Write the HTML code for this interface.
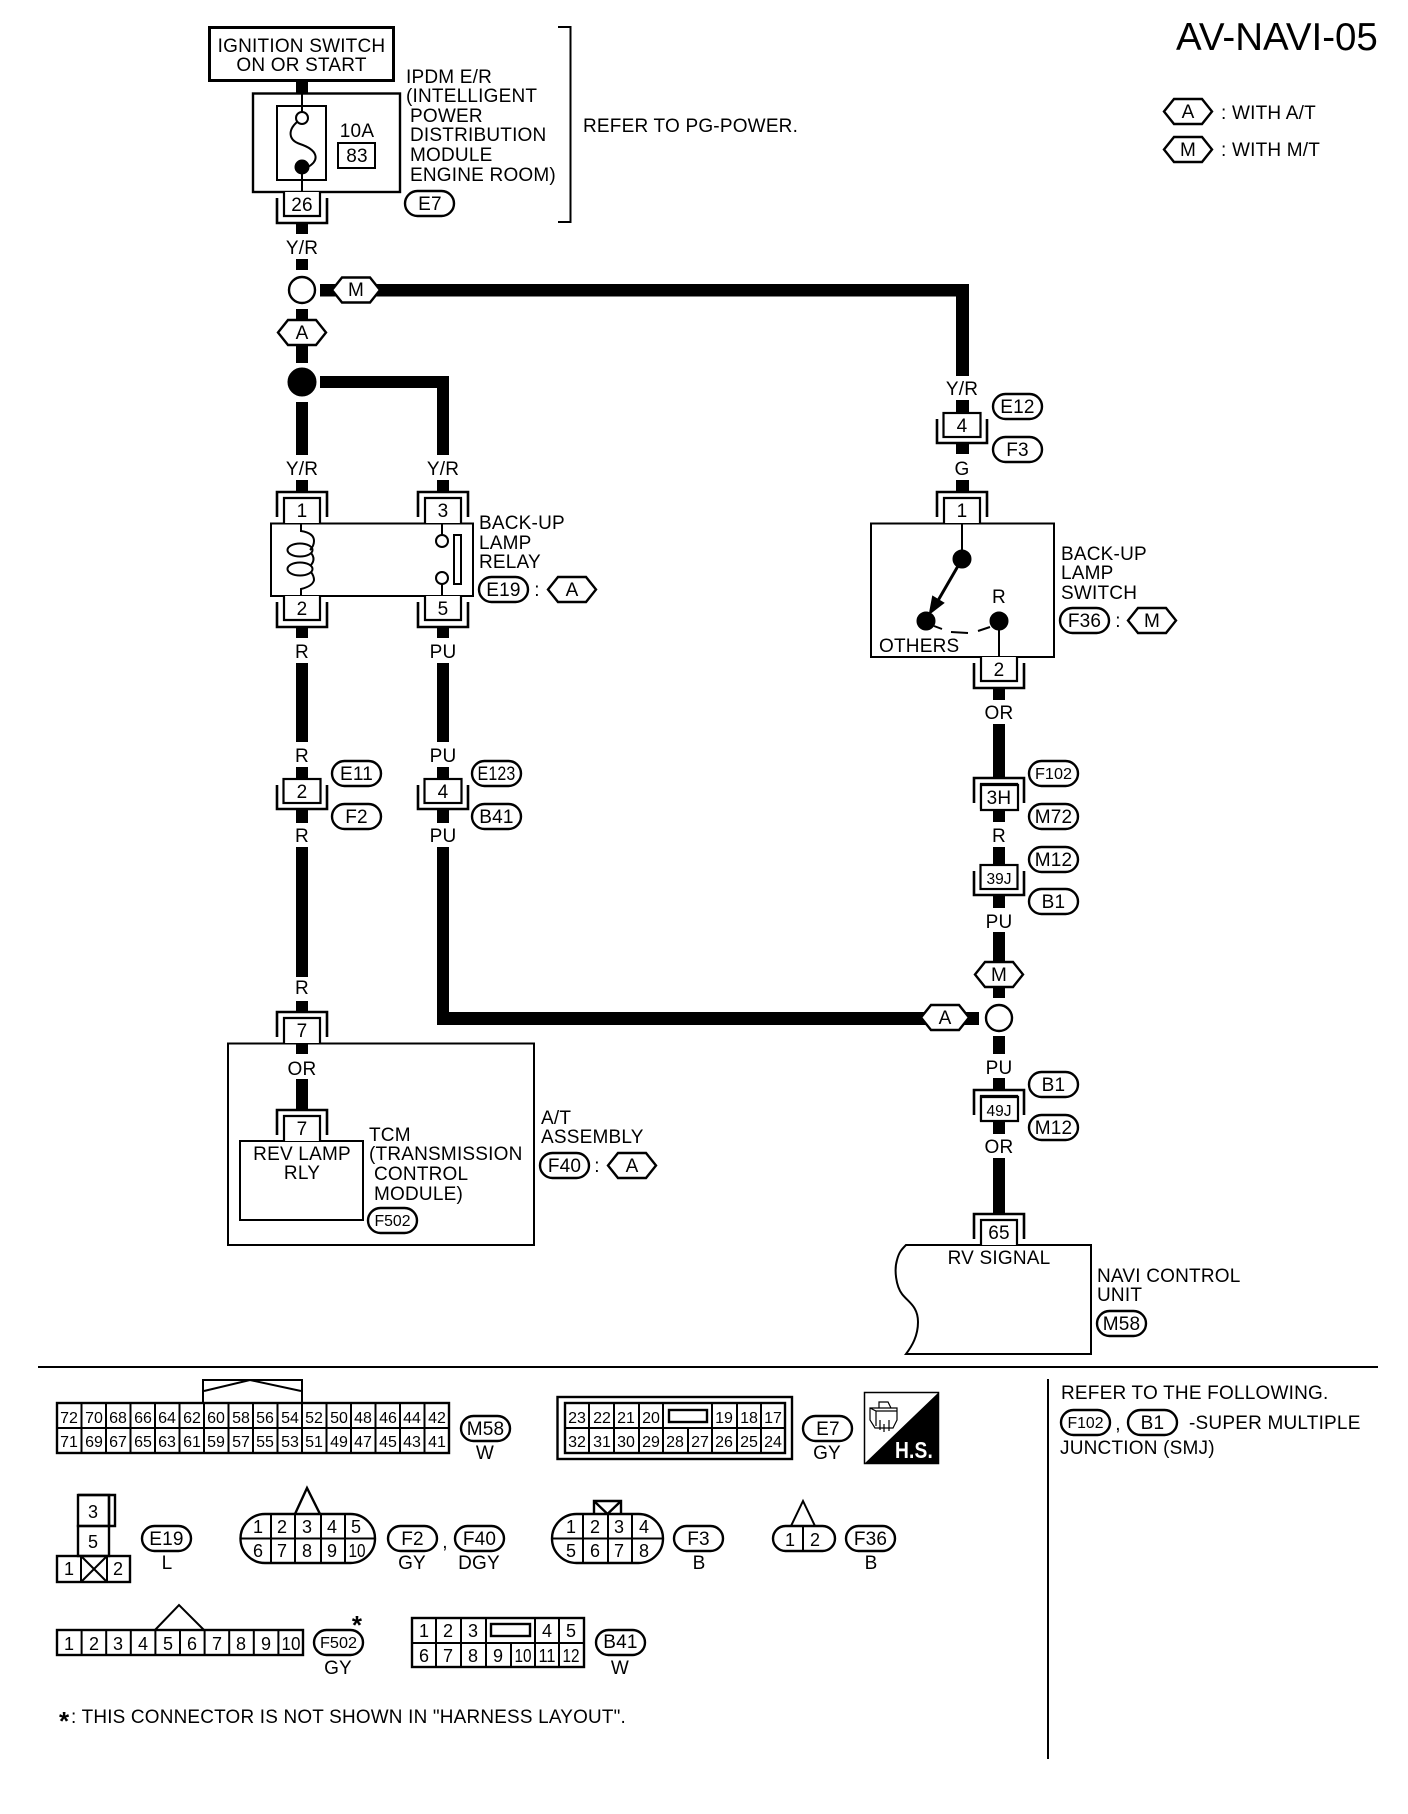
<!DOCTYPE html>
<html><head><meta charset="utf-8"><style>
html,body{margin:0;padding:0;background:#fff}
svg{display:block}
text{font-family:"Liberation Sans",sans-serif;font-size:19px;letter-spacing:.2px;fill:#000;stroke:none}
.m{text-anchor:middle}
.n{font-size:16px;letter-spacing:0;text-anchor:middle}
.s{font-size:16px;letter-spacing:0;text-anchor:middle}
.d{font-size:18px;letter-spacing:0;text-anchor:middle}
.l path,.l rect,.l circle,.l polygon,.l line,.l ellipse{stroke:#000;stroke-width:2;fill:none}
.w{fill:#000}
#hex polygon,#pill,.wf{fill:#fff;stroke:#000;stroke-width:2.4}
.k path,.k rect{fill:#fff;stroke:#000;stroke-width:2.2}
</style></head><body>
<svg xmlns="http://www.w3.org/2000/svg" width="1408" height="1814" viewBox="0 0 1408 1814">
<defs>
<g id="hex"><polygon points="1,12.5 11,0 39,0 49,12.5 39,25 11,25"/></g>
<rect id="pill" width="49" height="25" rx="12.5"/>
<g id="cT" class="k"><path d="M-25 25V0H25V25" style="fill:none;stroke-width:2.6"/><path d="M-18 31V6H18V31"/></g>
<g id="cB" class="k"><path d="M-18 0V24H18V0"/><path d="M-25 6V31H25V6" style="fill:none;stroke-width:2.6"/></g>
<g id="cM" class="k"><rect x="-18.5" y="0" width="37" height="24"/><path d="M-25 6V30H25V6" style="fill:none;stroke-width:2.6"/></g>
</defs>
<rect width="1408" height="1814" fill="#fff"/>

<!-- wires -->
<g class="w">
<rect x="296" y="81" width="12" height="12"/>
<rect x="296" y="222" width="12" height="12"/>
<rect x="296" y="259" width="12" height="11"/>
<rect x="320" y="284" width="20" height="12.5"/>
<rect x="370" y="284" width="598" height="12.5"/>
<rect x="956" y="284" width="13" height="92"/>
<rect x="296" y="309" width="12" height="12"/>
<rect x="296" y="345" width="12" height="18"/>
<rect x="320" y="376" width="129" height="12"/>
<rect x="437" y="376" width="12" height="79"/>
<rect x="296" y="402" width="12" height="53"/>
<rect x="296" y="480" width="12" height="12"/>
<rect x="437" y="480" width="12" height="12"/>
<rect x="296" y="627" width="12" height="11"/>
<rect x="437" y="627" width="12" height="11"/>
<rect x="296" y="663" width="12" height="79"/>
<rect x="437" y="663" width="12" height="79"/>
<rect x="296" y="767" width="12" height="12"/>
<rect x="437" y="767" width="12" height="12"/>
<rect x="296" y="809" width="12" height="14"/>
<rect x="437" y="809" width="12" height="14"/>
<rect x="296" y="847" width="12" height="130"/>
<rect x="437" y="847" width="12" height="178"/>
<rect x="437" y="1012" width="490" height="13"/>
<rect x="960" y="1012" width="19" height="13"/>
<rect x="296" y="1001" width="12" height="11"/>
<rect x="296" y="1043" width="12" height="11"/>
<rect x="296" y="1079" width="12" height="31"/>
<rect x="956" y="400" width="13" height="13"/>
<rect x="956" y="444" width="13" height="10"/>
<rect x="956" y="480" width="13" height="12"/>
<rect x="993" y="688" width="12" height="12"/>
<rect x="993" y="724" width="12" height="54"/>
<rect x="993" y="810" width="12" height="12"/>
<rect x="993" y="847" width="12" height="18"/>
<rect x="993" y="896" width="12" height="12"/>
<rect x="993" y="932" width="12" height="31"/>
<rect x="993" y="986" width="12" height="12"/>
<rect x="993" y="1036" width="12" height="18"/>
<rect x="993" y="1078" width="12" height="12"/>
<rect x="993" y="1121" width="12" height="13"/>
<rect x="993" y="1158" width="12" height="56"/>
</g>

<g class="l">
<!-- ignition + IPDM -->
<rect x="209.500" y="27.500" width="184" height="53" style="stroke-width:3"/>
<rect x="253" y="93.500" width="147" height="98.500" style="stroke-width:2.400"/>
<rect x="277" y="106" width="49" height="74"/>
<line x1="302" y1="93" x2="302" y2="112"/>
<circle cx="302" cy="118" r="6"/>
<path d="M297 122C288 130 288 140 300 144C318 150 320 160 308 167"/>
<circle cx="302" cy="167" r="6.500" style="fill:#000"/>
<line x1="302" y1="170" x2="302" y2="192"/>
<rect x="338" y="143" width="37" height="25"/>
<path d="M558 27H570.500V222H558"/>

<!-- nodes -->
<circle cx="302" cy="290" r="13" style="fill:#fff;stroke-width:2.400"/>
<circle cx="302" cy="382" r="13.500" style="fill:#000"/>
<circle cx="999" cy="1018" r="13" style="fill:#fff;stroke-width:2.400"/>

<!-- relay -->
<rect x="271" y="523.500" width="202" height="72.500"/>
<path d="M301 523V531Q314 533 314 541Q314 546 310 550"/>
<ellipse cx="300" cy="550" rx="12.500" ry="6.500"/>
<path d="M311 553Q316 559 311 565"/>
<ellipse cx="300" cy="569" rx="12.500" ry="6.500"/>
<path d="M311 572Q314 576 314 580Q313 586 301 589V596"/>
<line x1="442" y1="523" x2="442" y2="535"/>
<circle cx="442" cy="541" r="6"/>
<circle cx="442" cy="578" r="6"/>
<line x1="442" y1="584" x2="442" y2="596"/>
<rect x="454" y="535" width="7" height="49"/>

<!-- switch -->
<rect x="871" y="523.500" width="183" height="133.500"/>
<line x1="962" y1="523" x2="962" y2="555"/>
<circle cx="962" cy="559" r="8.500" style="fill:#000"/>
<circle cx="926" cy="621" r="8.500" style="fill:#000"/>
<circle cx="999" cy="621" r="8.500" style="fill:#000"/>
<line x1="958" y1="566" x2="936" y2="604" style="stroke-width:3"/>
<polygon points="930,613 933,597 943,603" style="fill:#000"/>
<line x1="934" y1="626" x2="942" y2="629"/>
<line x1="951" y1="632" x2="968" y2="633"/>
<line x1="978" y1="631" x2="990" y2="627"/>
<line x1="999" y1="621" x2="999" y2="657"/>

<!-- TCM -->
<rect x="228" y="1043.500" width="306" height="201.500"/>
<rect x="240" y="1141" width="123" height="79"/>

<!-- navi -->
<path d="M906 1245H1091V1354H906C912 1346 918 1336 918 1322C918 1306 908 1302 902 1294C896 1286 894 1270 897 1260C899 1252 902 1249 906 1245Z"/>

<!-- rules -->
<line x1="38" y1="1367" x2="1378" y2="1367"/>
<line x1="1048" y1="1379" x2="1048" y2="1759"/>
</g>

<!-- connectors -->
<use href="#cB" x="302" y="192"/>
<use href="#cT" x="302" y="492"/>
<use href="#cT" x="443" y="492"/>
<use href="#cB" x="302" y="596"/>
<use href="#cB" x="443" y="596"/>
<use href="#cM" x="302" y="779"/>
<use href="#cM" x="443" y="779"/>
<use href="#cM" x="962" y="413"/>
<use href="#cT" x="962" y="492"/>
<use href="#cB" x="999" y="657"/>
<use href="#cT" x="999" y="778"/>
<path d="M981 810V785H1018V810Z" fill="#fff" stroke="#000" stroke-width="2.200"/>
<use href="#cM" x="999" y="865"/>
<use href="#cT" x="999" y="1090"/>
<path d="M981 1121V1097H1018V1121Z" fill="#fff" stroke="#000" stroke-width="2.200"/>
<use href="#cT" x="999" y="1214"/>
<use href="#cT" x="302" y="1012"/>
<use href="#cT" x="302" y="1110"/>

<!-- hexes -->
<use href="#hex" x="331" y="277.500"/>
<use href="#hex" x="277" y="320"/>
<use href="#hex" x="547" y="577"/>
<use href="#hex" x="1127" y="608"/>
<use href="#hex" x="974" y="962"/>
<use href="#hex" x="920" y="1005"/>
<use href="#hex" x="607" y="1153"/>
<use href="#hex" x="1163" y="99"/>
<use href="#hex" x="1163" y="137"/>

<!-- pills -->
<use href="#pill" x="405" y="191"/>
<use href="#pill" x="479" y="577"/>
<use href="#pill" x="332" y="761"/>
<use href="#pill" x="332" y="804"/>
<use href="#pill" x="472" y="761"/>
<use href="#pill" x="472" y="804"/>
<use href="#pill" x="993" y="394"/>
<use href="#pill" x="993" y="437"/>
<use href="#pill" x="1060" y="608"/>
<use href="#pill" x="1029" y="761"/>
<use href="#pill" x="1029" y="804"/>
<use href="#pill" x="1029" y="847"/>
<use href="#pill" x="1029" y="889"/>
<use href="#pill" x="1029" y="1072"/>
<use href="#pill" x="1029" y="1115"/>
<use href="#pill" x="1097" y="1311"/>
<use href="#pill" x="368" y="1208"/>
<use href="#pill" x="540" y="1153"/>
<use href="#pill" x="461" y="1416"/>
<use href="#pill" x="803" y="1416"/>
<use href="#pill" x="142" y="1526"/>
<use href="#pill" x="388" y="1526"/>
<use href="#pill" x="455" y="1526"/>
<use href="#pill" x="674" y="1526"/>
<use href="#pill" x="846" y="1526"/>
<use href="#pill" x="314" y="1630"/>
<use href="#pill" x="596" y="1630"/>
<use href="#pill" x="1061" y="1410"/>
<use href="#pill" x="1128" y="1410"/>

<!-- main text -->
<text x="301.500" y="52" class="m">IGNITION SWITCH</text>
<text x="301.500" y="71" class="m">ON OR START</text>
<text x="406" y="83">IPDM E/R</text>
<text x="406" y="102">(INTELLIGENT</text>
<text x="410" y="122">POWER</text>
<text x="410" y="141">DISTRIBUTION</text>
<text x="410" y="161">MODULE</text>
<text x="410" y="181">ENGINE ROOM)</text>
<text x="357" y="137" class="m">10A</text>
<text x="357" y="162" class="m">83</text>
<text x="430" y="210" class="m">E7</text>
<text x="302" y="211" class="m">26</text>
<text x="583" y="132">REFER TO PG-POWER.</text>
<text x="1176" y="50" style="font-size:38.500px;letter-spacing:0">AV-NAVI-05</text>
<text x="1188" y="118" class="m">A</text>
<text x="1188" y="156" class="m">M</text>
<text x="1221" y="119">: WITH A/T</text>
<text x="1221" y="156">: WITH M/T</text>

<text x="302" y="254" class="m">Y/R</text>
<text x="356" y="296" class="m">M</text>
<text x="302" y="339" class="m">A</text>
<text x="302" y="475" class="m">Y/R</text>
<text x="443" y="475" class="m">Y/R</text>
<text x="302" y="517" class="m">1</text>
<text x="443" y="517" class="m">3</text>
<text x="479" y="529">BACK-UP</text>
<text x="479" y="549">LAMP</text>
<text x="479" y="568">RELAY</text>
<text x="503.500" y="596" class="m">E19</text>
<text x="537" y="596" class="m">:</text>
<text x="572" y="596" class="m">A</text>
<text x="302" y="615" class="m">2</text>
<text x="443" y="615" class="m">5</text>
<text x="302" y="658" class="m">R</text>
<text x="443" y="658" class="m">PU</text>
<text x="302" y="762" class="m">R</text>
<text x="443" y="762" class="m">PU</text>
<text x="302" y="798" class="m">2</text>
<text x="443" y="798" class="m">4</text>
<text x="356.500" y="780" class="m">E11</text>
<text x="356.500" y="823" class="m">F2</text>
<text x="496.500" y="780" class="m" textLength="38" lengthAdjust="spacingAndGlyphs">E123</text>
<text x="496.500" y="823" class="m">B41</text>
<text x="302" y="842" class="m">R</text>
<text x="443" y="842" class="m">PU</text>
<text x="302" y="994" class="m">R</text>
<text x="302" y="1037" class="m">7</text>
<text x="302" y="1075" class="m">OR</text>
<text x="302" y="1135" class="m">7</text>
<text x="302" y="1160" class="m">REV LAMP</text>
<text x="302" y="1179" class="m">RLY</text>
<text x="369" y="1141">TCM</text>
<text x="369" y="1160">(TRANSMISSION</text>
<text x="374" y="1180">CONTROL</text>
<text x="374" y="1200">MODULE)</text>
<text x="392.500" y="1226" class="s" textLength="36" lengthAdjust="spacingAndGlyphs">F502</text>
<text x="541" y="1124">A/T</text>
<text x="541" y="1143">ASSEMBLY</text>
<text x="564.500" y="1172" class="m">F40</text>
<text x="597" y="1172" class="m">:</text>
<text x="632" y="1172" class="m">A</text>

<text x="962" y="395" class="m">Y/R</text>
<text x="1017.500" y="413" class="m">E12</text>
<text x="1017.500" y="456" class="m">F3</text>
<text x="962" y="432" class="m">4</text>
<text x="962" y="475" class="m">G</text>
<text x="962" y="517" class="m">1</text>
<text x="999" y="603" class="m">R</text>
<text x="879" y="652">OTHERS</text>
<text x="1061" y="560">BACK-UP</text>
<text x="1061" y="579">LAMP</text>
<text x="1061" y="599">SWITCH</text>
<text x="1084.500" y="627" class="m">F36</text>
<text x="1118" y="627" class="m">:</text>
<text x="1152" y="627" class="m">M</text>
<text x="999" y="676" class="m">2</text>
<text x="999" y="719" class="m">OR</text>
<text x="1053.500" y="779" class="s" textLength="37" lengthAdjust="spacingAndGlyphs">F102</text>
<text x="999" y="804" class="m">3H</text>
<text x="1053.500" y="823" class="m">M72</text>
<text x="999" y="842" class="m">R</text>
<text x="1053.500" y="866" class="m">M12</text>
<text x="999" y="884" class="s" textLength="25" lengthAdjust="spacingAndGlyphs">39J</text>
<text x="1053.500" y="908" class="m">B1</text>
<text x="999" y="928" class="m">PU</text>
<text x="999" y="981" class="m">M</text>
<text x="945" y="1024" class="m">A</text>
<text x="999" y="1074" class="m">PU</text>
<text x="1053.500" y="1091" class="m">B1</text>
<text x="999" y="1116" class="s" textLength="25" lengthAdjust="spacingAndGlyphs">49J</text>
<text x="1053.500" y="1134" class="m">M12</text>
<text x="999" y="1153" class="m">OR</text>
<text x="999" y="1239" class="m">65</text>
<text x="999" y="1264" class="m">RV SIGNAL</text>
<text x="1097" y="1282">NAVI CONTROL</text>
<text x="1097" y="1301">UNIT</text>
<text x="1121.500" y="1330" class="m">M58</text>

<!-- side note -->
<text x="1061" y="1399">REFER TO THE FOLLOWING.</text>
<text x="1085.500" y="1428" class="s" textLength="36" lengthAdjust="spacingAndGlyphs">F102</text>
<text x="1118" y="1430" class="m">,</text>
<text x="1152.500" y="1429" class="m">B1</text>
<text x="1189" y="1429">-SUPER MULTIPLE</text>
<text x="1060" y="1454">JUNCTION (SMJ)</text>

<!-- M58 connector -->
<g class="l">
<path d="M203 1403V1380H302V1403"/>
<path d="M204 1391L250 1380L301 1391"/>
<rect x="57" y="1403" width="392" height="50" style="stroke-width:2.400"/>
<path d="M57 1428H449M81.500 1403V1453M106 1403V1453M130.500 1403V1453M155 1403V1453M179.500 1403V1453M204 1403V1453M228.500 1403V1453M253 1403V1453M277.500 1403V1453M302 1403V1453M326.500 1403V1453M351 1403V1453M375.500 1403V1453M400 1403V1453M424.500 1403V1453"/>
</g>
<g class="n">
<text class="n" x="69" y="1423">72</text><text class="n" x="94" y="1423">70</text><text class="n" x="118" y="1423">68</text><text class="n" x="143" y="1423">66</text><text class="n" x="167" y="1423">64</text><text class="n" x="192" y="1423">62</text><text class="n" x="216" y="1423">60</text><text class="n" x="241" y="1423">58</text><text class="n" x="265" y="1423">56</text><text class="n" x="290" y="1423">54</text><text class="n" x="314" y="1423">52</text><text class="n" x="339" y="1423">50</text><text class="n" x="363" y="1423">48</text><text class="n" x="388" y="1423">46</text><text class="n" x="412" y="1423">44</text><text class="n" x="437" y="1423">42</text>
<text class="n" x="69" y="1447">71</text><text class="n" x="94" y="1447">69</text><text class="n" x="118" y="1447">67</text><text class="n" x="143" y="1447">65</text><text class="n" x="167" y="1447">63</text><text class="n" x="192" y="1447">61</text><text class="n" x="216" y="1447">59</text><text class="n" x="241" y="1447">57</text><text class="n" x="265" y="1447">55</text><text class="n" x="290" y="1447">53</text><text class="n" x="314" y="1447">51</text><text class="n" x="339" y="1447">49</text><text class="n" x="363" y="1447">47</text><text class="n" x="388" y="1447">45</text><text class="n" x="412" y="1447">43</text><text class="n" x="437" y="1447">41</text>
</g>
<text x="485.500" y="1435" class="m">M58</text>
<text x="485" y="1459" class="m">W</text>

<!-- E7 connector -->
<g class="l">
<rect x="557.500" y="1397" width="234.500" height="62" style="stroke-width:2.400"/>
<rect x="565" y="1403" width="220" height="50" style="stroke-width:2.400"/>
<path d="M565 1428H785M589 1403V1453M614 1403V1453M639 1403V1453M663 1403V1453M712 1403V1453M737 1403V1453M761 1403V1453M688 1428V1453"/>
<rect x="669" y="1410" width="38" height="12" style="stroke-width:2.400"/>
</g>
<text class="n" x="577" y="1423">23</text><text class="n" x="602" y="1423">22</text><text class="n" x="626" y="1423">21</text><text class="n" x="651" y="1423">20</text><text class="n" x="724" y="1423">19</text><text class="n" x="749" y="1423">18</text><text class="n" x="773" y="1423">17</text>
<text class="n" x="577" y="1447">32</text><text class="n" x="602" y="1447">31</text><text class="n" x="626" y="1447">30</text><text class="n" x="651" y="1447">29</text><text class="n" x="675" y="1447">28</text><text class="n" x="700" y="1447">27</text><text class="n" x="724" y="1447">26</text><text class="n" x="749" y="1447">25</text><text class="n" x="773" y="1447">24</text>
<text x="828" y="1435" class="m">E7</text>
<text x="827" y="1459" class="m">GY</text>

<!-- H.S. icon -->
<rect x="864.500" y="1392.500" width="74" height="71" fill="#fff" stroke="#000" stroke-width="1.500"/>
<polygon points="939,1392 939,1464 864,1464" fill="#000"/>
<g class="l"><path d="M870 1408H897V1420L893 1428H875L870 1420ZM870 1408L876 1411H897M876 1411V1426M879 1408V1402H888L891 1408M884 1424V1432M889 1420V1431M880 1420V1430" style="stroke-width:1.200"/></g>
<text x="914" y="1458" class="m" style="font-weight:bold;font-size:23px;fill:#fff" textLength="38" lengthAdjust="spacingAndGlyphs">H.S.</text>

<!-- E19 connector -->
<g class="l">
<path d="M78 1495H115V1526H109M109 1495V1526" style="stroke-width:2.400"/>
<rect x="78" y="1495" width="31" height="31" style="stroke-width:2.400"/>
<rect x="78" y="1526" width="31" height="30" style="stroke-width:2.400"/>
<rect x="57" y="1556" width="73" height="26" style="stroke-width:2.400"/>
<path d="M81 1556V1582M107 1556V1582M81 1556L107 1582M107 1556L81 1582"/>
</g>
<text class="d" x="93" y="1518">3</text>
<text class="d" x="93" y="1548">5</text>
<text class="d" x="69" y="1575">1</text>
<text class="d" x="118" y="1575">2</text>
<text x="166.500" y="1545" class="m">E19</text>
<text x="167" y="1569" class="m">L</text>

<!-- F2 connector -->
<g class="l">
<rect x="240.500" y="1514" width="134.500" height="49" rx="24.500" style="stroke-width:2.400"/>
<path d="M241 1538.500H375M271 1514V1563M295 1514V1563M321 1514V1563M345 1514V1563"/>
<path d="M295 1514L307 1488L320 1514" style="stroke-width:2.400"/>
</g>
<text class="d" x="258" y="1533">1</text><text class="d" x="282" y="1533">2</text><text class="d" x="307" y="1533">3</text><text class="d" x="332" y="1533">4</text><text class="d" x="356" y="1533">5</text>
<text class="d" x="258" y="1557">6</text><text class="d" x="282" y="1557">7</text><text class="d" x="307" y="1557">8</text><text class="d" x="332" y="1557">9</text><text class="d" x="357" y="1557" textLength="17" lengthAdjust="spacingAndGlyphs">10</text>
<text x="412.500" y="1545" class="m">F2</text>
<text x="445" y="1548" class="m">,</text>
<text x="479.500" y="1545" class="m">F40</text>
<text x="412" y="1569" class="m">GY</text>
<text x="479" y="1569" class="m">DGY</text>

<!-- F3 connector -->
<g class="l">
<rect x="552" y="1514" width="111" height="49" rx="24.500" style="stroke-width:2.400"/>
<path d="M552 1538.500H663M583 1514V1563M608 1514V1563M632 1514V1563"/>
<path d="M594 1514V1501H621V1514M594 1501L607.500 1514L621 1501" style="stroke-width:2.400"/>
</g>
<text class="d" x="571" y="1533">1</text><text class="d" x="595" y="1533">2</text><text class="d" x="619" y="1533">3</text><text class="d" x="644" y="1533">4</text>
<text class="d" x="571" y="1557">5</text><text class="d" x="595" y="1557">6</text><text class="d" x="619" y="1557">7</text><text class="d" x="644" y="1557">8</text>
<text x="698.500" y="1545" class="m">F3</text>
<text x="699" y="1569" class="m">B</text>

<!-- F36 connector -->
<g class="l">
<rect x="773" y="1526" width="62" height="25" rx="12.500" style="stroke-width:2.400"/>
<path d="M803 1526V1551M791 1526L803 1501L815 1526"/>
</g>
<text class="d" x="790" y="1546">1</text><text class="d" x="815" y="1546">2</text>
<text x="870.500" y="1545" class="m">F36</text>
<text x="871" y="1569" class="m">B</text>

<!-- F502 connector -->
<g class="l">
<rect x="57" y="1630" width="246" height="25" style="stroke-width:2.400"/>
<path d="M81.600 1630V1655M106.200 1630V1655M130.800 1630V1655M155.400 1630V1655M180 1630V1655M204.600 1630V1655M229.200 1630V1655M253.800 1630V1655M278.400 1630V1655"/>
<path d="M155 1630L179 1605L204 1630"/>
</g>
<text class="d" x="69" y="1650">1</text><text class="d" x="94" y="1650">2</text><text class="d" x="118" y="1650">3</text><text class="d" x="143" y="1650">4</text><text class="d" x="168" y="1650">5</text><text class="d" x="192" y="1650">6</text><text class="d" x="217" y="1650">7</text><text class="d" x="241" y="1650">8</text><text class="d" x="266" y="1650">9</text><text class="d" x="291" y="1650" textLength="19" lengthAdjust="spacingAndGlyphs">10</text>
<text x="338.500" y="1648" class="s" textLength="37" lengthAdjust="spacingAndGlyphs">F502</text>
<text x="357" y="1634" class="m" style="font-size:26px;font-weight:bold">*</text>
<text x="338" y="1674" class="m">GY</text>

<!-- B41 connector -->
<g class="l">
<rect x="412" y="1618" width="172" height="49" style="stroke-width:2.400"/>
<path d="M412 1643H584M436 1618V1667M461 1618V1667M486 1618V1667M535 1618V1667M559 1618V1667M511 1643V1667"/>
<rect x="491" y="1624" width="39" height="12" style="stroke-width:2.400"/>
</g>
<text class="d" x="424" y="1637">1</text><text class="d" x="448" y="1637">2</text><text class="d" x="473" y="1637">3</text><text class="d" x="547" y="1637">4</text><text class="d" x="571" y="1637">5</text>
<text class="d" x="424" y="1662">6</text><text class="d" x="448" y="1662">7</text><text class="d" x="473" y="1662">8</text><text class="d" x="498" y="1662">9</text><text class="d" x="523" y="1662" textLength="17" lengthAdjust="spacingAndGlyphs">10</text><text class="d" x="547" y="1662" textLength="17" lengthAdjust="spacingAndGlyphs">11</text><text class="d" x="571" y="1662" textLength="17" lengthAdjust="spacingAndGlyphs">12</text>
<text x="620.500" y="1648" class="m">B41</text>
<text x="620" y="1674" class="m">W</text>

<!-- footnote -->
<text x="59" y="1730" style="font-size:26px;font-weight:bold">*</text>
<text x="71" y="1723" textLength="555" lengthAdjust="spacingAndGlyphs">: THIS CONNECTOR IS NOT SHOWN IN "HARNESS LAYOUT".</text>
</svg>
</body></html>
